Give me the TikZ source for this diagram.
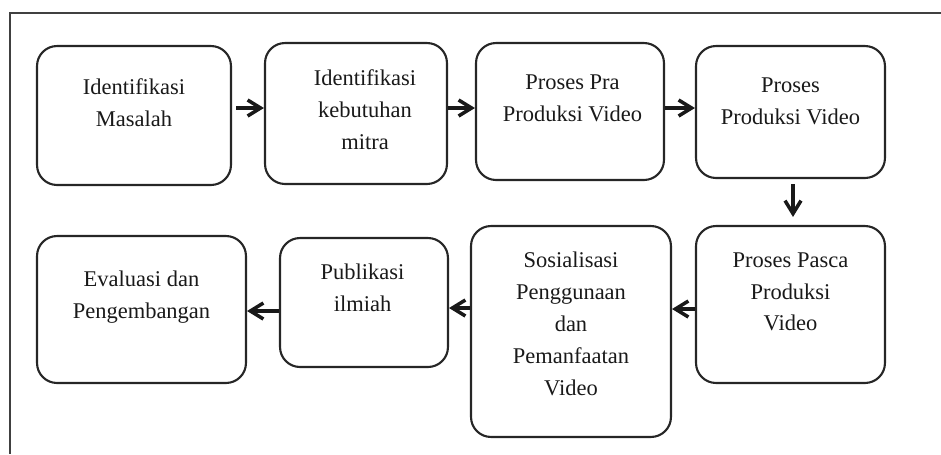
\documentclass[tikz,border=0pt]{standalone}
\usepackage{fontspec}
\setmainfont{Liberation Serif}
\usetikzlibrary{positioning,arrows.meta}

\begin{document}
\begin{tikzpicture}[x=0.02cm, y=-0.02cm]
    \tikzstyle{stage}=[draw=black!85, line width=1.2pt, rounded corners=0.4cm, inner sep=0pt]
    \tikzstyle{caption}=[align=center, inner sep=0pt, text=black!90, font=\fontsize{12.8}{18.2}\selectfont]
    \tikzstyle{flow}=[-{Straight Barb[length=0.26cm,width=0.32cm]}, line width=2pt, draw=black!90]
    \useasboundingbox (0,0) rectangle (941,454);
    % outer frame, cut off on the right and at the bottom
    \draw[black!75, line width=1.1pt] (941,13) -- (10,13) -- (10,454);

    % Top row
    \node[stage, minimum width=3.88cm, minimum height=2.78cm] (masalah) at (134,115.5) {};
    \node[stage, minimum width=3.64cm, minimum height=2.82cm] (kebutuhan) at (356,113.5) {};
    \node[stage, minimum width=3.76cm, minimum height=2.74cm] (pra) at (570,111.5) {};
    \node[stage, minimum width=3.78cm, minimum height=2.64cm] (produksi) at (790.5,112) {};
    % Bottom row
    \node[stage, minimum width=3.78cm, minimum height=3.14cm] (pasca) at (790.5,304.5) {};
    \node[stage, minimum width=4.00cm, minimum height=4.22cm] (sosialisasi) at (571,331.5) {};
    \node[stage, minimum width=3.36cm, minimum height=2.58cm] (publikasi) at (364,302.5) {};
    \node[stage, minimum width=4.18cm, minimum height=2.94cm] (evaluasi) at (141.5,309.5) {};

    % Texts in the boxes
    \node[caption, below=0.66cm of masalah.north] (masalah-t) {Identifikasi\\Masalah};
    \node[caption, below=0.54cm of kebutuhan.north, xshift=0.18cm] (kebutuhan-t) {Identifikasi\\kebutuhan\\mitra};
    \node[caption, below=0.64cm of pra.north, xshift=0.05cm] (pra-t) {Proses Pra\\Produksi Video};
    \node[caption, below=0.64cm of produksi.north] (produksi-t) {Proses\\Produksi Video};
    \node[caption, below=0.54cm of pasca.north] (pasca-t) {Proses Pasca\\Produksi\\Video};
    \node[caption, below=0.54cm of sosialisasi.north] (sosialisasi-t) {Sosialisasi\\Penggunaan\\dan\\Pemanfaatan\\Video};
    \node[caption, below=0.54cm of publikasi.north, xshift=-0.03cm] (publikasi-t) {Publikasi\\ilmiah};
    \node[caption, below=0.72cm of evaluasi.north] (evaluasi-t) {Evaluasi dan\\Pengembangan};

    % Arrows
    \draw[flow] ([xshift=0.08cm]masalah.east |- 0,108) -- (kebutuhan.west |- 0,108);
    \draw[flow] (kebutuhan.east |- 0,108) -- (pra.west |- 0,108);
    \draw[flow] (pra.east |- 0,108) -- (produksi.west |- 0,108);
    \draw[flow, shorten <=0.1cm, shorten >=0.16cm] ([xshift=0.05cm]produksi.south) -- ([xshift=0.05cm]pasca.north);
    \draw[flow] (pasca.west |- 0,309) -- (sosialisasi.east |- 0,309);
    \draw[flow] (sosialisasi.west |- 0,308) -- (publikasi.east |- 0,308);
    \draw[flow] (publikasi.west |- 0,311) -- (evaluasi.east |- 0,311);
\end{tikzpicture}
\end{document}
